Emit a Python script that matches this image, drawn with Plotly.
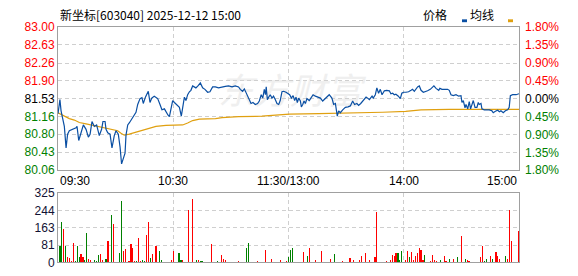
import plotly.graph_objects as go

# ---------------- data ----------------
title_text = "新坐标[603040] 2025-12-12 15:00"
prev_close = 81.53

price_ticks = [83.00, 82.63, 82.26, 81.90, 81.53, 81.16, 80.80, 80.43, 80.06]
pct_ticks = [1.80, 1.35, 0.90, 0.45, 0.00, -0.45, -0.90, -1.35, -1.80]
vol_ticks = [0, 81, 163, 244, 325]
time_ticks = [0, 60, 120, 180, 240]
time_labels = ["09:30", "10:30", "11:30/13:00", "14:00", "15:00"]

# minute index (0 = 09:30, 120 = 11:30/13:00, 240 = 15:00) and price
price_min = [0, 1.0, 1.6, 2.4, 3.3, 4.2, 5.0, 5.9, 7.6, 9.4, 9.9, 10.8, 12.0, 13.2, 14.6, 15.8, 16.7,
             17.7, 18.9, 20.1, 21.5, 22.7, 23.4, 24.5, 25.0, 25.9, 27.1, 28.1, 29.3, 30.2, 31.4, 32.3,
             33.1, 34.2, 34.9, 35.4, 36.3, 37.1, 38.5, 39.7, 40.6, 41.5, 42.7, 43.7, 44.4, 45.5, 46.2,
             47.0, 47.9, 48.8, 50.1, 51.9, 53.1, 54.1, 55.4, 56.2, 57.3, 58.0, 58.8, 59.7, 60.6, 61.8,
             63.2, 64.2, 64.9, 65.8, 66.6, 67.5, 68.4, 69.2, 70.1, 71.0, 71.8, 73.1, 74.1, 75.3, 76.5,
             77.9, 79.1, 80.5, 81.9, 83.6, 85.4, 87.1, 88.8, 90.6, 92.3, 94.0, 94.9, 96.1, 97.0, 98.0,
             99.3, 100.5, 101.5, 102.7, 103.9, 104.8, 105.8, 106.6, 107.4, 108.0, 108.4, 109.0, 109.7,
             110.5, 111.4, 112.2, 113.1, 114.0, 114.9, 115.7, 116.6, 117.5, 118.7, 119.7, 120.6, 121.5,
             122.4, 123.2, 123.9, 124.6, 125.3, 126.2, 126.7, 127.4, 128.1, 128.8, 129.6, 130.8, 131.9,
             132.8, 134.0, 135.4, 136.6, 137.8, 139.2, 140.0, 141.2, 142.6, 143.5, 144.4, 144.9, 145.4,
             146.1, 147.0, 148.2, 149.6, 151.0, 152.2, 153.4, 154.4, 155.6, 156.5, 157.6, 158.6, 159.5,
             160.4, 161.2, 162.1, 163.5, 164.1, 165.2, 166.0, 166.9, 167.8, 168.7, 169.9, 171.1, 172.5,
             173.3, 174.2, 175.1, 175.9, 177.2, 178.2, 179.0, 179.8, 181.2, 182.5, 183.8, 184.6, 185.5,
             186.4, 187.2, 188.1, 189.0, 190.2, 191.2, 192.4, 193.8, 195.0, 195.7, 196.8, 198.2, 198.8,
             199.9, 201.1, 202.8, 203.7, 204.6, 205.8, 207.2, 208.6, 209.8, 210.3, 211.0, 211.9, 212.4,
             213.3, 214.1, 214.8, 215.5, 216.2, 217.1, 218.1, 218.8, 219.3, 220.2, 220.7, 221.9, 223.1,
             224.5, 225.9, 226.6, 227.7, 228.9, 229.8, 230.6, 231.8, 232.9, 234.1, 234.9, 235.5, 236.7,
             238.5, 239.4, 240.0]
price_val = [81.22, 81.51, 81.28, 81.09, 80.96, 80.52, 80.80, 80.87, 80.90, 80.93, 80.96, 80.67, 80.83,
             80.99, 80.90, 80.74, 80.80, 81.06, 80.96, 80.99, 80.77, 80.90, 81.06, 81.06, 80.90, 80.83,
             80.80, 80.52, 80.77, 80.87, 80.80, 80.54, 80.19, 80.32, 80.41, 80.78, 80.99, 81.03, 81.12,
             81.22, 81.25, 81.41, 81.53, 81.55, 81.43, 81.56, 81.61, 81.68, 81.45, 81.54, 81.58, 81.53,
             81.41, 81.30, 81.32, 81.25, 81.19, 81.16, 81.35, 81.49, 81.45, 81.41, 81.35, 81.17, 81.35,
             81.56, 81.49, 81.61, 81.67, 81.70, 81.79, 81.77, 81.75, 81.80, 81.85, 81.75, 81.72, 81.66,
             81.67, 81.77, 81.77, 81.75, 81.77, 81.78, 81.79, 81.77, 81.79, 81.77, 81.72, 81.68, 81.73,
             81.64, 81.54, 81.43, 81.45, 81.41, 81.43, 81.48, 81.61, 81.54, 81.72, 81.61, 81.77, 81.51,
             81.56, 81.61, 81.54, 81.58, 81.51, 81.43, 81.41, 81.49, 81.67, 81.68, 81.66, 81.64, 81.61,
             81.54, 81.59, 81.49, 81.56, 81.45, 81.54, 81.48, 81.36, 81.41, 81.48, 81.43, 81.53, 81.49,
             81.56, 81.61, 81.58, 81.56, 81.54, 81.48, 81.54, 81.58, 81.61, 81.54, 81.41, 81.43, 81.26,
             81.17, 81.28, 81.24, 81.30, 81.35, 81.36, 81.38, 81.48, 81.41, 81.43, 81.39, 81.43, 81.48,
             81.52, 81.56, 81.54, 81.51, 81.58, 81.54, 81.61, 81.75, 81.64, 81.72, 81.61, 81.69, 81.70,
             81.69, 81.63, 81.64, 81.61, 81.62, 81.58, 81.53, 81.64, 81.66, 81.66, 81.67, 81.70, 81.72,
             81.68, 81.73, 81.77, 81.79, 81.70, 81.66, 81.67, 81.69, 81.72, 81.77, 81.79, 81.74, 81.70,
             81.74, 81.72, 81.72, 81.72, 81.70, 81.61, 81.59, 81.61, 81.58, 81.59, 81.45, 81.49, 81.34,
             81.41, 81.32, 81.47, 81.32, 81.43, 81.49, 81.35, 81.35, 81.45, 81.41, 81.43, 81.32, 81.30,
             81.30, 81.30, 81.28, 81.24, 81.27, 81.29, 81.26, 81.28, 81.24, 81.28, 81.30, 81.35, 81.59,
             81.61, 81.61, 81.62, 81.63]

avg_min = [0, 2.4, 4.2, 5.9, 8.5, 11.1, 14.6, 18.1, 21.5, 25.0, 28.5, 31.1, 32.8, 34.5, 37.1, 39.7,
           43.2, 45.8, 47.5, 51.0, 56.2, 59.7, 64.9, 67.5, 70.1, 73.6, 82.0, 85.4, 94.0, 106.2, 120.4,
           135.7, 149.6, 163.0, 169.0, 181.0, 189.0, 203.7, 240.0]
avg_val = [81.24, 81.19, 81.14, 81.12, 81.09, 81.04, 81.01, 80.98, 80.96, 80.93, 80.90, 80.87, 80.82,
           80.78, 80.80, 80.83, 80.87, 80.90, 80.93, 80.96, 80.98, 80.98, 80.99, 81.03, 81.08, 81.11,
           81.12, 81.14, 81.16, 81.17, 81.21, 81.22, 81.23, 81.24, 81.25, 81.27, 81.30, 81.31, 81.31]

# volume per minute: minute index, volume (lots), direction (1 up/red, -1 down/green)
vol_min = [1, 2, 3, 4, 5, 6, 7, 8, 9, 10, 11, 12, 13, 14, 15, 16, 17, 18, 19, 20, 21, 22, 23, 24, 25,
           26, 27, 28, 29, 30, 31, 32, 33, 34, 35, 36, 37, 38, 39, 40, 41, 42, 43, 44, 45, 46, 47, 48,
           49, 50, 51, 52, 53, 54, 55, 56, 57, 58, 59, 60, 61, 62, 63, 64, 65, 66, 67, 68, 69, 70, 71,
           72, 73, 74, 75, 76, 77, 79, 80, 81, 82, 83, 85, 86, 87, 89, 92, 94, 96, 98, 99, 100, 102,
           104, 106, 108, 110, 111, 113, 116, 118, 119, 120, 121, 122, 123, 125, 128, 130, 131, 132,
           134, 137, 139, 142, 144, 146, 148, 150, 152, 154, 157, 158, 160, 162, 164, 165, 166, 168,
           171, 173, 174, 175, 176, 177, 178, 179, 180, 181, 182, 183, 184, 185, 186, 187, 188, 189,
           190, 191, 192, 193, 194, 195, 196, 197, 199, 201, 202, 204, 206, 208, 209, 210, 211, 212,
           213, 214, 216, 218, 220, 221, 222, 223, 225, 226, 228, 229, 230, 231, 233, 234, 235, 236,
           237, 238, 240]
vol_val = [76, 191, 155, 75, 24, 21, 6, 91, 6, 75, 24, 39, 24, 9, 140, 16, 12, 3, 12, 4, 34, 39, 9, 3,
           16, 101, 3, 220, 182, 3, 3, 46, 289, 51, 64, 3, 6, 86, 69, 4, 6, 113, 4, 9, 6, 128, 188, 19,
           39, 3, 79, 3, 51, 12, 3, 2, 2, 2, 9, 51, 2, 2, 43, 13, 9, 2, 2, 244, 2, 298, 2, 9, 13, 4, 4,
           2, 2, 3, 88, 3, 2, 7, 34, 16, 9, 3, 3, 4, 3, 69, 89, 3, 3, 4, 3, 57, 3, 16, 3, 12, 3, 4, 27,
           57, 66, 2, 3, 48, 31, 69, 3, 9, 51, 3, 16, 39, 3, 4, 3, 19, 9, 12, 28, 43, 9, 3, 24, 235, 3,
           6, 9, 34, 30, 43, 43, 9, 51, 2, 9, 51, 24, 48, 9, 31, 46, 66, 57, 9, 34, 2, 2, 6, 34, 12, 6,
           9, 28, 6, 15, 16, 24, 3, 124, 3, 16, 9, 6, 3, 3, 24, 75, 7, 15, 30, 16, 48, 30, 16, 2, 28,
           16, 247, 101, 2, 2, 146]
vol_dir = [-1, -1, 1, -1, 1, 1, 1, 1, -1, -1, -1, 1, 1, -1, -1, 1, 1, -1, -1, -1, -1, 1, 1, -1, -1,
           1, -1, -1, 1, 1, 1, -1, -1, 1, 1, 1, 1, 1, 1, 1, -1, 1, 1, -1, -1, 1, 1, -1, 1, 1, 1, 1, -1,
           -1, -1, 1, 1, -1, 1, 1, 1, 1, -1, -1, 1, 1, 1, 1, 1, 1, 1, -1, 1, -1, -1, 1, 1, 1, 1, 1, 1,
           -1, 1, 1, 1, 1, 1, 1, 1, -1, -1, 1, 1, 1, 1, 1, 1, 1, 1, 1, 1, 1, -1, -1, -1, -1, 1, 1, -1,
           1, 1, 1, 1, -1, 1, -1, 1, 1, 1, 1, 1, 1, 1, 1, 1, -1, 1, 1, 1, 1, 1, 1, 1, 1, -1, -1, -1, 1,
           1, 1, -1, 1, 1, 1, 1, 1, 1, 1, -1, 1, 1, 1, 1, 1, 1, -1, 1, 1, -1, 1, -1, 1, 1, 1, -1, 1,
           1, 1, 1, 1, 1, -1, -1, 1, -1, 1, 1, 1, -1, -1, 1, 1, 1, 1, 1, 1, 1, 1]

# ---------------- styling ----------------
W, H = 578, 276
X0, X1 = 58, 519          # plot left/right (px)
MAIN_T, MAIN_B = 21, 172  # main panel top/bottom (px)
VOL_T, VOL_B = 196, 269   # volume panel top/bottom (px)

def px_x(p):
    return p / W

def px_y(p):
    return 1 - p / H

RED, GREEN, BLACK = "#FF0000", "#008000", "#000000"
BLUE_LINE, GOLD_LINE = "#0A4FA3", "#E0A010"
GRID, BORDER = "#CFCFCF", "#A0A0A0"
FONT = "Liberation Sans, Arial, sans-serif"
CJK = "Noto Sans CJK SC, sans-serif"

def level_color(v, ref):
    if abs(v - ref) < 1e-9:
        return BLACK
    return RED if v > ref else GREEN

left_text = [f'<span style="color:{level_color(v, prev_close)}">{v:.2f}</span>' for v in price_ticks]
right_text = [f'<span style="color:{level_color(v, 0)}">{abs(v):.2f}%</span>' for v in pct_ticks]
bar_colors = [RED if d > 0 else GREEN for d in vol_dir]

fig = go.Figure()

fig.add_trace(go.Scatter(x=avg_min, y=avg_val, mode="lines", line=dict(color=GOLD_LINE, width=1.2),
                         xaxis="x", yaxis="y", hoverinfo="skip", showlegend=False))
fig.add_trace(go.Scatter(x=price_min, y=price_val, mode="lines", line=dict(color=BLUE_LINE, width=1.2),
                         xaxis="x", yaxis="y", hoverinfo="skip", showlegend=False))
fig.add_trace(go.Scatter(x=[0, 240], y=[pct_ticks[-1], pct_ticks[0]], mode="lines", opacity=0,
                         xaxis="x", yaxis="y2", hoverinfo="skip", showlegend=False))
fig.add_trace(go.Bar(x=vol_min, y=vol_val, marker=dict(color=bar_colors, line=dict(width=0)), width=0.6,
                     xaxis="x2", yaxis="y3", hoverinfo="skip", showlegend=False))

xdom = [px_x(X0), px_x(X1)]
common_x = dict(domain=xdom, range=[0, 240], showticklabels=False, tickvals=time_ticks[1:4],
                showgrid=True, gridcolor=GRID, griddash="4px,3px", gridwidth=1, zeroline=False,
                showline=True, linecolor=BORDER, linewidth=1, mirror=True, fixedrange=True)

fig.update_layout(
    width=W, height=H, autosize=False,
    margin=dict(l=0, r=0, t=0, b=0, pad=0),
    paper_bgcolor="white", plot_bgcolor="white",
    font=dict(family=FONT, size=12, color=BLACK),
    bargap=0,
    xaxis=dict(anchor="y", **common_x),
    xaxis2=dict(anchor="y3", **common_x),
    yaxis=dict(domain=[px_y(MAIN_B), px_y(MAIN_T)], range=[price_ticks[-1], price_ticks[0]],
               tickvals=price_ticks, ticktext=left_text, tickfont=dict(family=FONT, size=12),
               showgrid=True, gridcolor=GRID, griddash="4px,3px", zeroline=False,
               showline=True, linecolor=BORDER, mirror=True, ticks="", fixedrange=True),
    yaxis2=dict(overlaying="y", side="right", anchor="x", range=[pct_ticks[-1], pct_ticks[0]],
                tickvals=pct_ticks, ticktext=right_text, tickfont=dict(family=FONT, size=12),
                ticklabelstandoff=5,
                showgrid=False, zeroline=False, showline=False, ticks="", fixedrange=True),
    yaxis3=dict(domain=[px_y(VOL_B), px_y(VOL_T)], anchor="x2", range=[vol_ticks[0], vol_ticks[-1]],
                tickvals=vol_ticks, ticktext=[str(v) for v in vol_ticks],
                tickfont=dict(family=FONT, size=12, color="#111133"),
                showgrid=True, gridcolor=GRID, griddash="4px,3px", zeroline=False,
                showline=True, linecolor=BORDER, mirror=True, ticks="", fixedrange=True),
)

# time labels under the main panel
anchors = ["left", "center", "center", "center", "right"]
for t, lab, a in zip(time_ticks, time_labels, anchors):
    fig.add_annotation(x=t, xref="x", y=px_y(183), yref="paper", text=lab, showarrow=False,
                       xanchor=a, yanchor="middle", font=dict(family=FONT, size=12, color=BLACK))

# title
fig.add_annotation(x=px_x(X0), xref="paper", y=px_y(8), yref="paper", showarrow=False,
                   xanchor="left", yanchor="middle", text=title_text,
                   font=dict(family=CJK, size=12, color=BLACK))

# legend (text + small colour keys)
fig.add_annotation(x=px_x(449), xref="paper", y=px_y(8), yref="paper", showarrow=False,
                   xanchor="right", yanchor="middle", text="价格", font=dict(family=CJK, size=12))
fig.add_annotation(x=px_x(496), xref="paper", y=px_y(8), yref="paper", showarrow=False,
                   xanchor="right", yanchor="middle", text="均线", font=dict(family=CJK, size=12))
fig.add_shape(type="rect", xref="paper", yref="paper", x0=px_x(462), x1=px_x(467), y0=px_y(16),
              y1=px_y(13), fillcolor=BLUE_LINE, line=dict(width=0))
fig.add_shape(type="rect", xref="paper", yref="paper", x0=px_x(508), x1=px_x(513), y0=px_y(16),
              y1=px_y(13), fillcolor=GOLD_LINE, line=dict(width=0))

# faint watermark behind the lines
fig.add_shape(type="rect", xref="paper", yref="paper", x0=px_x(200), x1=px_x(380), y0=px_y(115),
              y1=px_y(68), line=dict(width=0), fillcolor="rgba(0,0,0,0)", layer="below",
              label=dict(text="<i>东方财富</i>", font=dict(family=CJK, size=36, color="#EFEFEF"),
                         textposition="middle center"))

fig.write_html("out.html", config={"displayModeBar": False, "staticPlot": True})
